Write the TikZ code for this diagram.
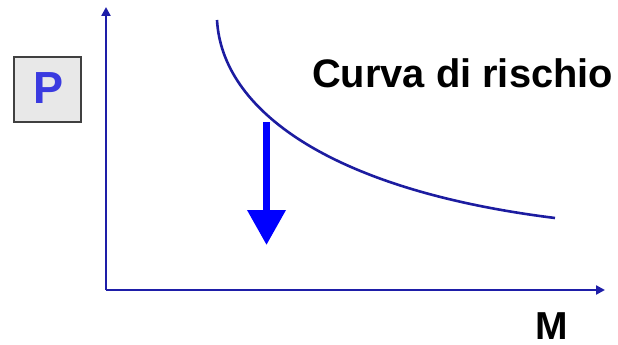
\documentclass[tikz,border=0pt]{standalone}
\usepackage{fontspec}
\setmainfont{Liberation Sans}
\usetikzlibrary{arrows.meta}
\definecolor{axisblue}{HTML}{1E1EA8}
\definecolor{curveblue}{HTML}{1C1CA0}
\definecolor{pblue}{HTML}{3A3AE0}
\definecolor{boxgray}{HTML}{E8E8E8}
\definecolor{boxedge}{HTML}{404040}
\tikzset{
  axisline/.style={draw=axisblue, line width=2.6pt, -{Triangle[length=9pt,width=9pt]}},
  lbl/.style={font=\bfseries, inner sep=0pt},
}
\begin{document}
\begin{tikzpicture}[x=1pt,y=-1pt]
\useasboundingbox (0,0) rectangle (618,345);
% axes
\coordinate (O) at (106,290);
\coordinate (ytop) at (106,7);
\coordinate (xend) at (605,290);
\draw[axisline] (O) -- (ytop);
\draw[axisline] (O) -- (xend);
% P box
\node[draw=boxedge, fill=boxgray, line width=1.5pt, minimum width=67pt, minimum height=65pt, inner sep=0pt] (pbox) at (47.5,89.5) {};
\node[lbl, text=pblue, font=\fontsize{45}{45}\bfseries\selectfont] (P) at (48.5,88) {P};
% curve
\coordinate (cs) at (217,20);
\coordinate (ce) at (555,218);
\draw[curveblue, line width=2.6pt] (cs) .. controls (222,110) and (330,190) .. (ce);
% label
\node[lbl, anchor=base west, font=\fontsize{39.8}{40}\bfseries\selectfont] (label) at (312,88) {Curva di rischio};
\node[lbl, anchor=base, font=\fontsize{39}{39}\bfseries\selectfont] (M) at (551.5,339) {M};
% big arrow
\coordinate (atop) at (266.5,122);
\coordinate (abot) at (266.5,245);
\draw[blue, line width=7pt, -{Triangle[length=35pt,width=37pt]}] (atop) -- (abot);
\end{tikzpicture}
\end{document}
